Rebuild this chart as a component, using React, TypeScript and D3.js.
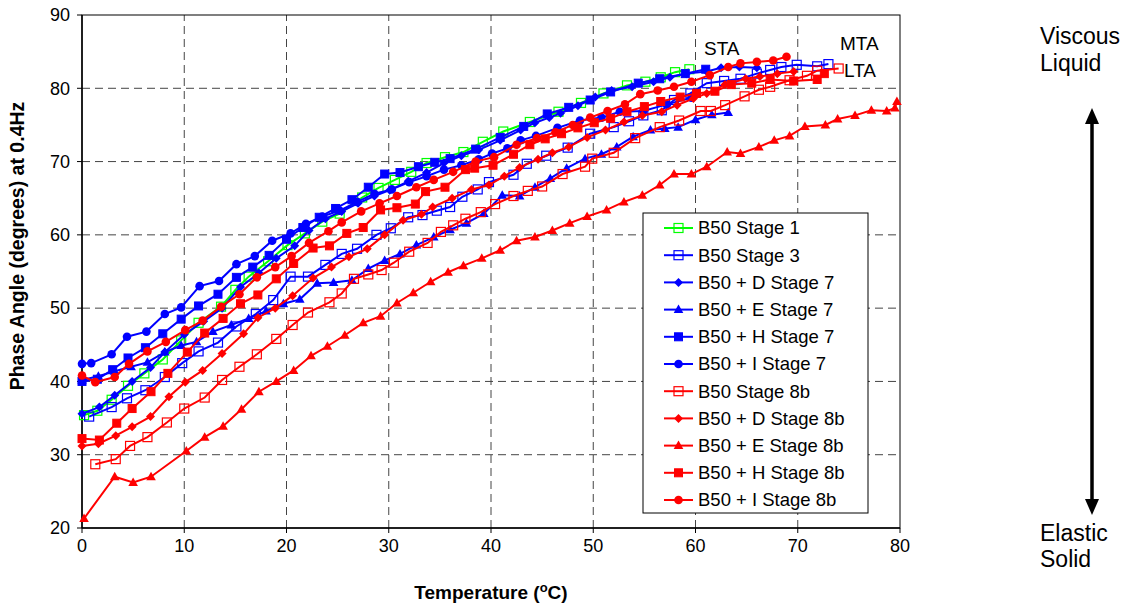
import React from 'react';
import * as d3 from 'd3';

type P = [number, number];

const xTicks = [0, 10, 20, 30, 40, 50, 60, 70, 80];
const yTicks = [20, 30, 40, 50, 60, 70, 80, 90];

const b50Stage1: P[] = [[0.2,35.4],[1.5,36.0],[2.9,37.5],[4.5,39.4],[6.1,41.1],[7.9,43.0],[9.7,45.6],[11.4,48.0],[13.6,50.2],[15.0,52.5],[16.3,54.3],[18.2,56.4],[20.1,58.6],[21.8,60.2],[23.5,61.8],[25.2,62.9],[27.4,65.1],[29.0,66.4],[30.6,67.5],[32.2,68.6],[33.7,69.8],[35.5,70.6],[37.3,71.3],[39.2,72.7],[41.2,74.1],[43.8,75.4],[46.6,76.8],[48.8,78.0],[51.0,79.3],[53.3,80.4],[55.1,80.9],[56.6,81.5],[58.0,82.2],[59.4,82.6]];
const b50Stage3: P[] = [[0.7,35.2],[2.9,36.5],[4.4,37.7],[6.2,38.8],[8.1,40.6],[9.8,42.5],[11.4,44.1],[13.3,45.3],[15.1,47.5],[17.0,49.2],[18.7,51.1],[20.4,54.3],[22.1,54.3],[23.8,55.9],[25.4,57.4],[26.9,58.1],[28.8,60.0],[30.2,60.9],[31.9,62.4],[33.3,62.7],[34.7,63.3],[36.0,63.8],[37.2,65.2],[38.7,66.2],[39.8,67.2],[42.2,68.2],[43.5,69.7],[45.4,70.8],[47.5,71.9],[49.7,73.8],[52.0,74.7],[53.5,75.5],[54.9,76.3],[56.7,77.0],[57.9,78.4],[59.5,79.3],[61.1,80.7],[62.8,81.0],[64.4,81.3],[66.0,82.0],[67.3,82.5],[68.4,82.9],[69.9,83.2],[71.9,83.0],[73.0,83.3]];
const b50DStage7: P[] = [[0,35.6],[1.7,36.5],[3.2,38.1],[4.9,40.0],[6.7,41.9],[8.1,44.0],[10.0,46.4],[11.9,48.2],[13.7,50.0],[15.5,52.9],[17.3,54.8],[19.0,56.8],[20.8,58.5],[22.2,60.6],[23.8,62.2],[25.4,63.2],[27.0,64.3],[28.6,65.3],[30.1,66.1],[31.9,67.3],[33.7,68.5],[35.4,69.8],[37.1,70.8],[38.8,71.6],[40.9,72.9],[42.9,74.3],[44.3,75.3],[45.7,76.0],[46.8,76.6],[48.5,77.6],[50.2,78.8],[51.8,79.7],[53.8,80.2],[55.9,80.9],[57.5,81.5],[59.1,82.0],[61.1,82.3],[62.5,82.8],[64.3,82.9],[66.0,82.8]];
const b50EStage7: P[] = [[0,40.2],[1.6,40.7],[3.2,41.4],[4.8,42.0],[6.4,42.6],[8.1,44.0],[9.7,44.9],[11.2,45.4],[12.8,46.8],[14.6,47.7],[16.3,48.6],[18.0,49.6],[19.7,50.6],[21.3,51.2],[23.0,53.4],[24.6,53.5],[26.4,53.8],[28.0,55.4],[29.6,56.5],[31.1,57.4],[32.7,58.6],[34.4,59.7],[36.0,60.7],[37.6,61.6],[39.3,62.9],[41.1,65.4],[42.8,65.3],[44.3,66.5],[45.8,67.7],[47.4,69.1],[49.2,70.4],[50.8,71.0],[52.3,72.0],[53.9,73.4],[55.6,74.3],[57.0,74.5],[58.3,74.7],[60.0,75.7],[61.6,76.4],[63.2,76.7]];
const b50HStage7: P[] = [[0,40.0],[1.5,40.3],[3.0,41.6],[4.5,43.2],[6.2,44.6],[7.9,46.5],[9.7,48.5],[11.4,50.3],[13.3,51.9],[15.1,54.2],[16.7,55.6],[18.3,57.2],[20.0,59.4],[21.6,61.0],[23.2,62.4],[24.8,63.6],[26.4,64.8],[28.0,66.5],[29.6,68.3],[31.1,68.5],[32.9,69.3],[34.5,69.9],[36.0,70.4],[38.5,71.7],[40.9,73.3],[43.2,74.8],[45.5,76.5],[47.6,77.4],[49.7,78.4],[51.7,79.5],[54.4,80.7],[56.5,81.3],[59.0,82.0],[61.0,82.6]];
const b50IStage7: P[] = [[0,42.4],[0.9,42.5],[2.9,43.7],[4.4,46.1],[6.3,46.8],[8.1,49.2],[9.7,50.1],[11.5,53.0],[13.4,53.7],[15.1,56.0],[16.9,57.1],[18.6,59.2],[20.4,60.2],[21.9,61.5],[23.5,62.5],[25.2,63.3],[26.9,64.5],[28.6,65.6],[30.3,66.2],[32.0,67.2],[33.7,68.0],[35.4,68.9],[37.1,69.5],[38.8,70.3],[40.1,71.1],[41.6,71.8],[42.9,72.9],[44.4,73.5],[46.5,74.6],[48.7,75.6],[50.8,76.0],[52.6,76.8],[54.9,76.9],[57.2,77.8],[59.6,78.7]];
const b50Stage8b: P[] = [[1.3,28.7],[3.3,29.4],[4.7,31.2],[6.4,32.4],[8.3,34.4],[10.0,36.3],[12.0,37.8],[13.7,40.2],[15.4,42.0],[17.1,43.7],[19.0,45.8],[20.6,47.7],[22.1,49.4],[24.2,50.8],[25.4,52.0],[26.6,54.0],[28.0,54.6],[29.3,55.2],[30.5,56.2],[32.0,57.7],[33.8,58.9],[35.1,60.4],[36.3,61.3],[37.5,62.2],[39.0,63.1],[40.4,64.2],[42.2,65.3],[43.6,66.0],[45.0,66.6],[47.0,68.3],[49.2,69.3],[49.9,70.4],[52.0,71.2],[54.1,73.2],[56.5,74.7],[58.4,75.6],[60.5,76.9],[61.5,76.9],[62.9,77.7],[64.8,78.9],[66.2,79.8],[67.3,80.2],[69.2,81.1],[70.9,81.7],[71.9,82.4],[74.0,82.7]];
const b50DStage8b: P[] = [[0,31.2],[1.6,31.5],[3.3,32.6],[4.9,33.8],[6.7,35.2],[8.5,37.9],[10.1,39.9],[11.8,41.5],[13.7,43.8],[15.8,46.5],[17.2,48.7],[18.9,50.0],[20.6,51.7],[22.6,54.1],[24.4,55.6],[26.1,57.0],[27.9,58.1],[29.6,60.0],[31.4,62.0],[33.2,62.8],[34.3,63.8],[36.2,65.0],[38.1,66.2],[39.8,66.8],[41.3,68.0],[42.8,69.2],[44.6,70.3],[46.0,71.2],[47.6,72.0],[49.4,73.3],[51.2,74.3],[53.0,75.4],[54.8,76.3],[56.7,76.8],[58.2,77.7],[59.8,78.6],[61.1,79.3],[62.9,80.5],[64.9,81.3],[66.3,81.6],[68.0,82.0],[69.6,82.3]];
const b50EStage8b: P[] = [[0.2,21.3],[3.2,27.0],[5.0,26.2],[6.75,27.0],[10.2,30.5],[12.0,32.4],[13.8,33.9],[15.6,36.2],[17.3,38.6],[19.0,40.0],[20.7,41.5],[22.4,43.5],[24.0,44.8],[25.7,46.3],[27.5,48.0],[29.2,48.9],[30.8,50.7],[32.4,52.1],[34.1,53.6],[35.8,54.9],[37.3,55.8],[39.1,56.8],[40.9,57.9],[42.5,59.2],[44.3,59.7],[46.0,60.6],[47.7,61.6],[49.4,62.5],[51.3,63.4],[53.0,64.5],[54.8,65.4],[56.5,66.8],[57.9,68.3],[59.6,68.3],[61.1,69.3],[63.1,71.3],[64.4,71.1],[66.2,72.0],[67.7,72.9],[69.2,73.5],[70.7,74.8],[72.7,75.0],[73.9,75.8],[75.6,76.3],[77.2,77.0],[78.7,76.9],[79.5,77.3],[79.7,78.2]];
const b50HStage8b: P[] = [[0,32.2],[1.7,32.0],[3.4,34.3],[4.9,36.3],[6.75,38.6],[8.4,41.1],[10.3,44.0],[12.0,46.6],[13.8,48.6],[15.5,50.6],[17.2,51.8],[19.0,54.0],[20.7,56.1],[22.6,58.2],[24.2,58.5],[25.9,60.2],[27.5,61.0],[29.2,63.4],[30.8,63.7],[32.6,64.2],[33.6,65.9],[35.5,66.5],[37.5,68.9],[38.4,69.1],[40.2,69.5],[42.2,71.0],[43.8,72.3],[45.3,73.1],[46.9,73.8],[48.5,74.6],[50.1,75.3],[51.7,75.9],[53.3,76.8],[55.0,77.5],[56.6,78.2],[58.5,78.8],[60.1,79.3],[61.9,79.6],[63.5,80.5],[65.5,80.7],[67.3,81.2],[69.6,81.0],[71.9,81.2],[72.6,82.0]];
const b50IStage8b: P[] = [[0,40.8],[1.3,39.9],[3.2,40.6],[4.6,42.4],[6.4,44.1],[8.2,45.4],[10.1,47.0],[11.8,48.3],[13.6,50.2],[15.4,51.9],[17.1,54.2],[18.9,55.6],[20.5,57.1],[22.2,58.9],[24.1,60.5],[25.4,61.7],[27.3,63.2],[29.1,64.3],[30.8,65.3],[32.7,66.5],[34.4,67.5],[36.3,68.6],[38.5,70.0],[40.3,70.6],[42.5,72.3],[44.5,73.2],[46.3,74.0],[48.0,75.0],[49.7,76.0],[51.4,76.9],[53.1,77.8],[54.6,79.2],[56.3,79.7],[57.9,80.2],[59.6,80.9],[61.4,81.8],[63.2,82.9],[64.4,83.4],[66.0,83.6],[67.6,83.8],[68.9,84.3]];

type Marker = 'openSquare' | 'diamond' | 'triangle' | 'square' | 'circle';
const GREEN = '#00ff00';
const BLUE = '#0000ff';
const RED = '#ff0000';

const seriesNames = ['B50 Stage 1','B50 Stage 3','B50 + D Stage 7','B50 + E Stage 7','B50 + H Stage 7','B50 + I Stage 7','B50 Stage 8b','B50 + D Stage 8b','B50 + E Stage 8b','B50 + H Stage 8b','B50 + I Stage 8b'];
const seriesData: P[][] = [b50Stage1,b50Stage3,b50DStage7,b50EStage7,b50HStage7,b50IStage7,b50Stage8b,b50DStage8b,b50EStage8b,b50HStage8b,b50IStage8b];
const seriesColors = [GREEN,BLUE,BLUE,BLUE,BLUE,BLUE,RED,RED,RED,RED,RED];
const seriesMarkers: Marker[] = ['openSquare','openSquare','diamond','triangle','square','circle','openSquare','diamond','triangle','square','circle'];

const W = 1126, H = 605;
const x = d3.scaleLinear().domain([0, 80]).range([82, 900]);
const y = d3.scaleLinear().domain([20, 90]).range([528, 15]);
const FONT = '"Liberation Sans", Arial, sans-serif';

function markerEl(m: Marker, cx: number, cy: number, color: string, key: string | number) {
  switch (m) {
    case 'openSquare':
      return <rect key={key} x={cx - 4.5} y={cy - 4.5} width={9} height={9} fill="none" stroke={color} strokeWidth={1.2} />;
    case 'square':
      return <rect key={key} x={cx - 4} y={cy - 4} width={8} height={8} fill={color} stroke={color} strokeWidth={1} />;
    case 'diamond':
      return <path key={key} d={`M${cx},${cy - 4.5}L${cx + 4.5},${cy}L${cx},${cy + 4.5}L${cx - 4.5},${cy}Z`} fill={color} />;
    case 'triangle':
      return <path key={key} d={`M${cx},${cy - 5}L${cx + 4.8},${cy + 3.5}L${cx - 4.8},${cy + 3.5}Z`} fill={color} />;
    case 'circle':
      return <circle key={key} cx={cx} cy={cy} r={4.3} fill={color} />;
  }
}

export default function App() {
  const line = d3.line<P>().x(d => x(d[0])).y(d => y(d[1]));
  const legendTop = 228;
  const legendStep = 27.2;
  return (
    <svg width={W} height={H} style={{ position: 'absolute', left: 0, top: 0, background: '#fff' }} fontFamily={FONT}>
      <rect x={0} y={0} width={W} height={H} fill="#fff" />
      {/* grid */}
      {yTicks.filter(t => t > 20 && t < 90).map(t => (
        <line key={'gy' + t} x1={x(0)} x2={x(80)} y1={y(t)} y2={y(t)} stroke="#444" strokeWidth={1} strokeDasharray="8,5" />
      ))}
      {xTicks.filter(t => t > 0 && t < 80).map(t => (
        <line key={'gx' + t} x1={x(t)} x2={x(t)} y1={y(20)} y2={y(90)} stroke="#444" strokeWidth={1} strokeDasharray="8,5" />
      ))}
      {/* frame */}
      <rect x={x(0)} y={y(90)} width={x(80) - x(0)} height={y(20) - y(90)} fill="none" stroke="#000" strokeWidth={1} />
      <line x1={x(0)} x2={x(0)} y1={y(90)} y2={y(20)} stroke="#000" strokeWidth={1.5} />
      <line x1={x(0)} x2={x(80)} y1={y(20)} y2={y(20)} stroke="#000" strokeWidth={1.5} />
      {/* ticks */}
      {yTicks.map(t => (
        <g key={'ty' + t}>
          <line x1={x(0) - 5} x2={x(0)} y1={y(t)} y2={y(t)} stroke="#000" />
          <text x={x(0) - 12} y={y(t)} dy="0.35em" textAnchor="end" fontSize={18}>{t}</text>
        </g>
      ))}
      {xTicks.map(t => (
        <g key={'tx' + t}>
          <line x1={x(t)} x2={x(t)} y1={y(20)} y2={y(20) + 5} stroke="#000" />
          <text x={x(t)} y={y(20) + 24} textAnchor="middle" fontSize={18}>{t}</text>
        </g>
      ))}
      {/* axis titles */}
      <text transform={`translate(24,246) rotate(-90)`} textAnchor="middle" fontSize={19.5} fontWeight="bold">Phase Angle (degrees) at 0.4Hz</text>
      <text x={491} y={599} textAnchor="middle" fontSize={19} fontWeight="bold">
        Temperature (<tspan dy={-7} fontSize={13}>o</tspan><tspan dy={7}>C)</tspan>
      </text>
      {/* series */}
      {seriesData.map((data, i) => (
        <g key={'s' + i}>
          <path d={line(data) || ''} fill="none" stroke={seriesColors[i]} strokeWidth={2} />
          {data.map((d, j) => markerEl(seriesMarkers[i], x(d[0]), y(d[1]), seriesColors[i], j))}
        </g>
      ))}
      {/* annotations */}
      <text x={704} y={55} fontSize={19}>STA</text>
      <text x={840} y={50} fontSize={19}>MTA</text>
      <text x={844} y={77} fontSize={19}>LTA</text>
      {/* legend */}
      <rect x={643} y={213} width={225} height={300} fill="#fff" stroke="#000" strokeWidth={1} />
      {seriesNames.map((name, i) => {
        const ly = legendTop + i * legendStep;
        return (
          <g key={'l' + i}>
            <line x1={664} x2={693} y1={ly} y2={ly} stroke={seriesColors[i]} strokeWidth={2} />
            {markerEl(seriesMarkers[i], 678.5, ly, seriesColors[i], 'm')}
            <text x={698} y={ly} dy="0.35em" fontSize={18.5}>{name}</text>
          </g>
        );
      })}
      {/* right side */}
      <text x={1040} y={44} fontSize={23}>Viscous</text>
      <text x={1040} y={71} fontSize={23}>Liquid</text>
      <text x={1040} y={541} fontSize={23}>Elastic</text>
      <text x={1040} y={567} fontSize={23}>Solid</text>
      <line x1={1092} x2={1092} y1={120} y2={503} stroke="#000" strokeWidth={3.5} />
      <path d="M1092,108L1099,124L1085,124Z" fill="#000" />
      <path d="M1092,515L1099,499L1085,499Z" fill="#000" />
    </svg>
  );
}
